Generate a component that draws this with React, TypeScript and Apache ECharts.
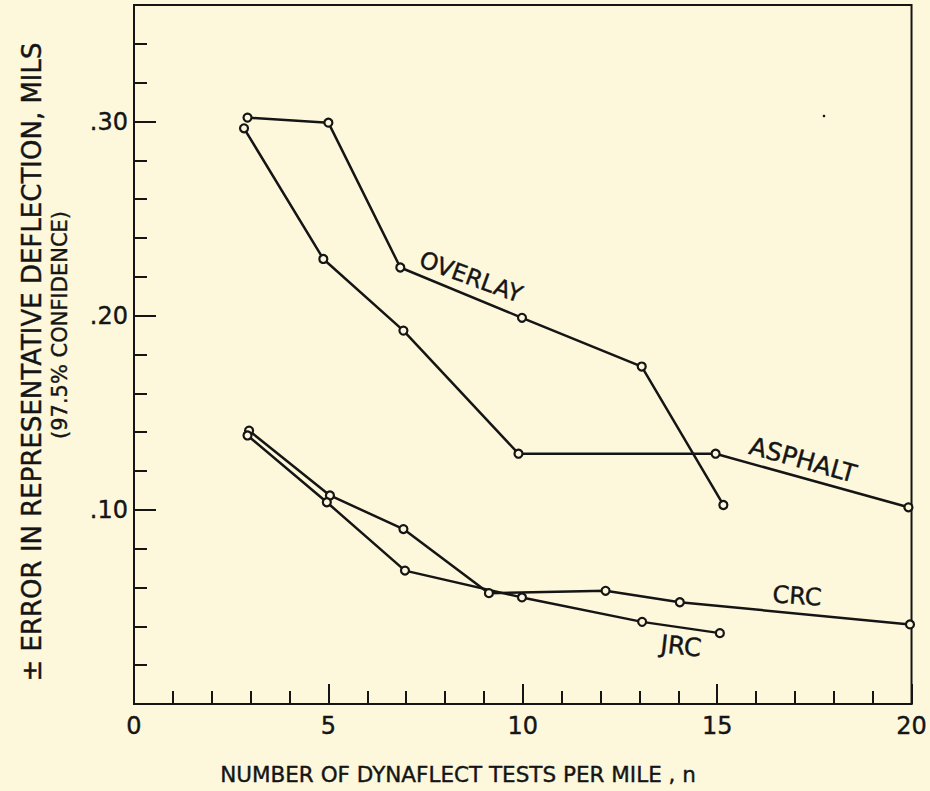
import React, { useEffect, useRef } from "react";
import * as echarts from "echarts";

// ---- data ----
const overlayX = [2.92, 5.0, 6.85, 9.98, 13.06, 15.16];
const overlayY = [0.302, 0.2994, 0.2248, 0.1989, 0.1738, 0.1025];

const asphaltX = [2.83, 4.87, 6.93, 9.89, 14.96, 19.92];
const asphaltY = [0.2965, 0.2292, 0.1923, 0.1289, 0.1289, 0.1013];

const crcX = [2.96, 5.04, 6.93, 9.13, 12.13, 14.04, 19.96];
const crcY = [0.1408, 0.1074, 0.0901, 0.0571, 0.0583, 0.0524, 0.041];

const jrcX = [2.92, 4.96, 6.97, 9.98, 13.07, 15.07];
const jrcY = [0.1383, 0.1039, 0.0687, 0.0549, 0.0423, 0.0365];

const xTickLabels = ["0", "5", "10", "15", "20"];
const yTickLabels = ["", ".10", ".20", ".30"];

const seriesNames = ["OVERLAY", "ASPHALT", "CRC", "JRC"];

const xTitle = "NUMBER OF DYNAFLECT TESTS PER MILE , n";
const yTitle1 = "± ERROR IN REPRESENTATIVE DEFLECTION, MILS";
const yTitle2 = "(97.5% CONFIDENCE)";

const BG = "#fdf8dc";
const INK = "#151515";
const FONT = "'DejaVu Sans', Verdana, sans-serif";

function pairs(xs: number[], ys: number[]) {
  return xs.map((x, i) => [x, ys[i]]);
}

export default function App() {
  const ref = useRef<HTMLDivElement>(null);

  useEffect(() => {
    document.body.style.margin = "0";
    document.body.style.background = BG;
    if (!ref.current) return;
    const chart = echarts.init(ref.current, null, { renderer: "svg" });

    const lineSeries = (name: string, xs: number[], ys: number[]) => ({
      name,
      type: "line",
      xAxisIndex: 0,
      yAxisIndex: 0,
      data: pairs(xs, ys),
      symbol: "circle",
      symbolSize: 8,
      showSymbol: true,
      lineStyle: { color: INK, width: 2.5 },
      itemStyle: { color: BG, borderColor: INK, borderWidth: 2.2 },
      z: 3,
    });

    const commonAxisLine = { show: true, onZero: false, lineStyle: { color: INK, width: 2 } };
    const heavy = { textBorderColor: INK, textBorderWidth: 0.4 };
    const txt = (text: string, size: number) => ({
      text,
      font: `${size}px ${FONT}`,
      fill: INK,
      stroke: INK,
      lineWidth: 0.4,
      align: "center",
      verticalAlign: "middle",
    });

    chart.setOption({
      animation: false,
      backgroundColor: BG,
      grid: {
        left: 134,
        right: 18,
        top: 5,
        bottom: 87,
        show: true,
        borderColor: INK,
        borderWidth: 2,
        backgroundColor: "transparent",
      },
      xAxis: [
        {
          type: "value",
          position: "bottom",
          min: 0,
          max: 20,
          interval: 5,
          axisLine: commonAxisLine,
          axisTick: { show: true, inside: true, length: 20, lineStyle: { color: INK, width: 2 } },
          splitLine: { show: false },
          axisLabel: {
            show: true,
            margin: 10,
            fontSize: 24,
            fontFamily: FONT,
            color: INK,
            ...heavy,
            formatter: (v: number) => xTickLabels[Math.round(v / 5)] ?? "",
          },
        },
        {
          type: "value",
          position: "bottom",
          min: 0,
          max: 20,
          interval: 1,
          axisLine: { show: false },
          axisTick: { show: true, inside: true, length: 13, lineStyle: { color: INK, width: 2 } },
          splitLine: { show: false },
          axisLabel: { show: false },
        },
      ],
      yAxis: [
        {
          type: "value",
          position: "left",
          min: 0,
          max: 0.36,
          interval: 0.1,
          axisLine: commonAxisLine,
          axisTick: { show: true, inside: true, length: 22, lineStyle: { color: INK, width: 2 } },
          splitLine: { show: false },
          axisLabel: {
            show: true,
            margin: 6,
            fontSize: 24,
            fontFamily: FONT,
            color: INK,
            ...heavy,
            formatter: (v: number) => {
              const i = Math.round(v * 10);
              if (Math.abs(v * 10 - i) > 1e-6) return "";
              return yTickLabels[i] ?? "";
            },
          },
        },
        {
          type: "value",
          position: "left",
          min: 0,
          max: 0.36,
          interval: 0.02,
          axisLine: { show: false },
          axisTick: { show: true, inside: true, length: 13, lineStyle: { color: INK, width: 2 } },
          splitLine: { show: false },
          axisLabel: { show: false },
        },
      ],
      series: [
        lineSeries(seriesNames[0], overlayX, overlayY),
        lineSeries(seriesNames[1], asphaltX, asphaltY),
        lineSeries(seriesNames[2], crcX, crcY),
        lineSeries(seriesNames[3], jrcX, jrcY),
      ],
      graphic: [
        { type: "text", x: 471, y: 277, rotation: -0.35, style: txt(seriesNames[0], 23.5) },
        { type: "text", x: 803, y: 460, rotation: -0.27, style: txt(seriesNames[1], 25) },
        { type: "text", x: 797, y: 596, rotation: -0.07, style: txt(seriesNames[2], 24) },
        { type: "text", x: 681, y: 646, rotation: -0.11, style: txt(seriesNames[3], 25) },
        { type: "text", x: 458, y: 774, style: txt(xTitle, 21.5) },
        { type: "text", x: 32, y: 362, rotation: Math.PI / 2, style: txt(yTitle1, 26) },
        { type: "text", x: 60, y: 325, rotation: Math.PI / 2, style: txt(yTitle2, 21) },
        { type: "circle", shape: { cx: 824, cy: 116, r: 1.3 }, style: { fill: INK } },
      ],
    });

    return () => chart.dispose();
  }, []);

  return <div ref={ref} style={{ width: 930, height: 791, background: BG }} />;
}
